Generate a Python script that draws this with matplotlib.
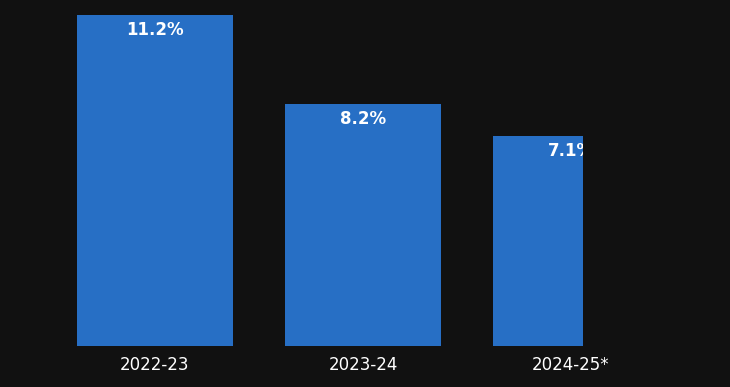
import matplotlib.pyplot as plt
from matplotlib.transforms import Bbox, TransformedBbox

years = ['2022-23', '2023-24', '2024-25*']
growth = [11.2, 8.2, 7.1]
labels = ['11.2%', '8.2%', '7.1%']

bg = '#111111'
bar_color = '#276fc5'

fig = plt.figure(figsize=(7.3, 3.87), dpi=100, facecolor=bg)
ax = fig.add_axes([0, 41 / 387, 1, 346 / 387])
ax.set_facecolor(bg)

xs = list(range(len(years)))
bars = ax.bar(xs, growth, width=0.75, color=bar_color)
ax.set_xlim(-155 / 208, 575 / 208)
ax.set_ylim(0, 346 / 29.55)

# last bar looks cut off on the right in the original (animation frame)
clip = TransformedBbox(Bbox([[0, 0], [5.83, 3.87]]), fig.dpi_scale_trans)

for i, (b, lab) in enumerate(zip(bars, labels)):
    t = ax.annotate(lab, (b.get_x() + b.get_width() / 2, b.get_height()),
                    xytext=(0, -11), textcoords='offset points',
                    ha='center', va='center', color='white',
                    fontsize=12, fontweight='bold')
    if i == len(bars) - 1:
        b.set_clip_box(clip)
        t.set_clip_box(clip)
        t.set_clip_on(True)

ax.set_xticks(xs)
ax.set_xticklabels(years, color='white', fontsize=12)
ax.tick_params(axis='x', length=0, pad=7.5)
ax.set_yticks([])
for s in ax.spines.values():
    s.set_visible(False)

fig.savefig('out.png', dpi=100, facecolor=bg)
